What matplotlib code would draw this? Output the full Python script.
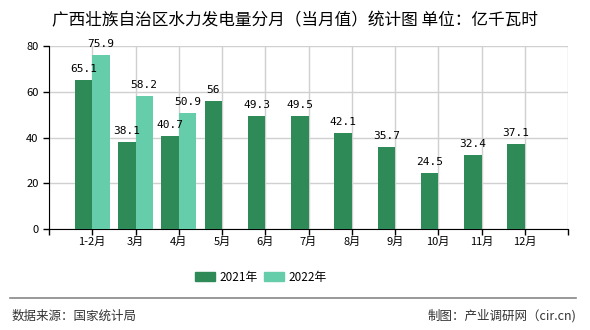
import matplotlib
matplotlib.use("Agg")
import matplotlib.pyplot as plt
import numpy as np
from matplotlib.patches import Rectangle
from matplotlib.lines import Line2D

plt.rcParams['font.family'] = ['Noto Sans CJK SC', 'DejaVu Sans']

title = "广西壮族自治区水力发电量分月（当月值）统计图 单位：亿千瓦时"
categories = ["1-2月", "3月", "4月", "5月", "6月", "7月", "8月", "9月", "10月", "11月", "12月"]
s2021 = [65.1, 38.1, 40.7, 56, 49.3, 49.5, 42.1, 35.7, 24.5, 32.4, 37.1]
s2022 = [75.9, 58.2, 50.9]
series_names = ["2021年", "2022年"]
yticks = [0, 20, 40, 60, 80]
source = "数据来源：国家统计局"
maker = "制图：产业调研网（cir.cn)"

c2021 = "#2E8B57"
c2022 = "#66CDAA"

fig = plt.figure(figsize=(5.9, 3.3), dpi=100)
ax = fig.add_axes([49/590, 1-229/330, (568-49)/590, (229-46)/330])

x = np.arange(len(categories))
w = 0.4
ax.bar(x[:len(s2021)], s2021, width=-w, align='edge', color=c2021, zorder=3)
ax.bar(x[:len(s2022)], s2022, width=w, align='edge', color=c2022, zorder=3)

def fmt(v):
    return str(int(v)) if float(v).is_integer() else str(v)

for xi, v in zip(x, s2021):
    ax.text(xi - w/2, v + 2.6, fmt(v), ha='center', va='bottom', fontsize=8,
            family='DejaVu Sans Mono', zorder=4)
for xi, v in zip(x, s2022):
    ax.text(xi + w/2, v + 2.6, fmt(v), ha='center', va='bottom', fontsize=8,
            family='DejaVu Sans Mono', zorder=4)

ax.set_xlim(-1, len(categories))
ax.set_ylim(0, 80)
ax.set_yticks(yticks)
ax.set_xticks(np.arange(-1, len(categories) + 1))
ax.set_xticklabels([""] + categories + [""])
ax.tick_params(axis='both', labelsize=8, length=4, direction='out', width=1)
ax.tick_params(axis='x', pad=2)
ax.grid(True, color='#d0d0d0', linewidth=1, zorder=0)
for sp in ['top', 'right']:
    ax.spines[sp].set_visible(False)
ax.spines['left'].set_color('black')
ax.spines['bottom'].set_color('black')

fig.text(295/590, 1-21/330, title, ha='center', va='center', fontsize=12)

# legend
fig.patches.append(Rectangle((195/590, 1-281/330), 20/590, 9/330, transform=fig.transFigure,
                             color=c2021, figure=fig))
fig.text(219/590, 1-277/330, series_names[0], ha='left', va='center', fontsize=8.5)
fig.patches.append(Rectangle((264/590, 1-281/330), 20/590, 9/330, transform=fig.transFigure,
                             color=c2022, figure=fig))
fig.text(288/590, 1-277/330, series_names[1], ha='left', va='center', fontsize=8.5)

fig.lines.append(Line2D([10/590, 576/590], [1-298/330, 1-298/330], transform=fig.transFigure,
                        color='#888888', linewidth=1.2))
fig.text(12/590, 1-316/330, source, ha='left', va='center', fontsize=9, color='#333333')
fig.text(576/590, 1-316/330, maker, ha='right', va='center', fontsize=9, color='#333333')

fig.savefig("out.png", dpi=100)
